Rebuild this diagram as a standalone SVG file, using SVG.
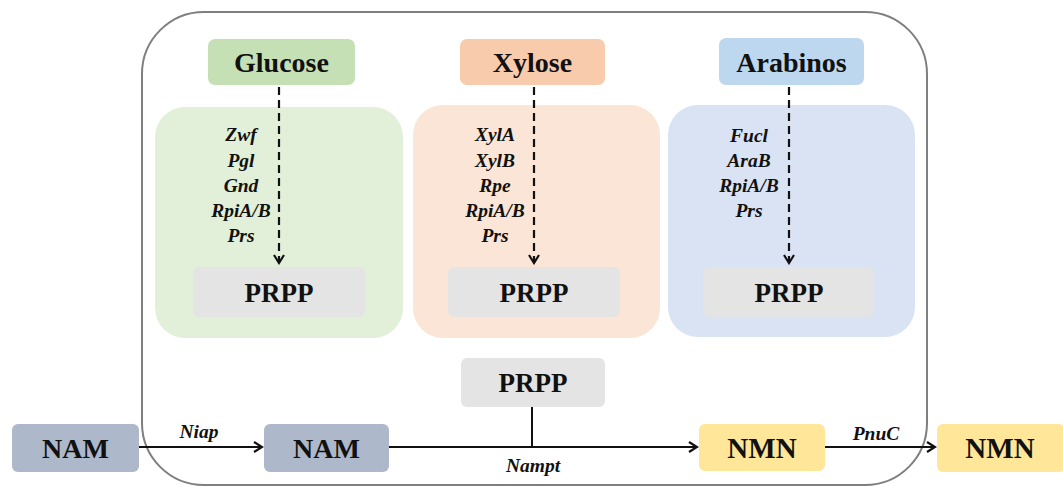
<svg xmlns="http://www.w3.org/2000/svg" width="1063" height="488" viewBox="0 0 1063 488">
<style>
.lbl{font-family:"Liberation Serif","Times New Roman",serif;font-weight:bold;fill:#111;text-anchor:middle}
.top{font-size:28px}
.prpp{font-size:27px}
.gene{font-family:"Liberation Serif","Times New Roman",serif;font-weight:bold;font-style:italic;font-size:19.5px;fill:#111;text-anchor:middle}
.dash{stroke:#111;stroke-width:2.2;stroke-dasharray:8 5;fill:none}
.solid{stroke:#111;stroke-width:2;fill:none}
</style>
<defs>
<marker id="chev" markerWidth="12" markerHeight="12" refX="10" refY="6" orient="auto" markerUnits="userSpaceOnUse">
<path d="M2,1 L10,6 L2,11" fill="none" stroke="#111" stroke-width="2.2"/>
</marker>
</defs>
<rect id="container" x="142" y="12" width="785" height="473" rx="62" fill="#fff" stroke="#7f7f7f" stroke-width="2"/>

<g id="panel-glucose"><rect x="155" y="107" width="248" height="231" rx="30" fill="#e2f0d9"/></g>
<g id="panel-xylose"><rect x="413" y="105" width="247" height="233" rx="30" fill="#fbe5d6"/></g>
<g id="panel-arabinos"><rect x="668" y="105" width="247" height="232" rx="30" fill="#dae3f3"/></g>

<g id="glucose"><rect x="208" y="39" width="147" height="46" rx="7" fill="#c5e0b4"/><text class="lbl top" x="281.5" y="72">Glucose</text></g>
<g id="xylose"><rect x="460" y="39" width="145" height="46" rx="7" fill="#f8cbad"/><text class="lbl top" x="532.5" y="72">Xylose</text></g>
<g id="arabinos"><rect x="719" y="38" width="145" height="47" rx="7" fill="#bdd7ee"/><text class="lbl top" x="791.5" y="72">Arabinos</text></g>

<g id="prpp-glucose"><rect x="193" y="267" width="172" height="50" rx="6" fill="#e4e4e4"/><text class="lbl prpp" x="279" y="302">PRPP</text></g>
<g id="prpp-xylose"><rect x="448" y="267" width="172" height="50" rx="6" fill="#e4e4e4"/><text class="lbl prpp" x="534" y="302">PRPP</text></g>
<g id="prpp-arabinos"><rect x="703" y="267" width="171" height="50" rx="6" fill="#e4e4e4"/><text class="lbl prpp" x="789" y="302">PRPP</text></g>

<g id="genes-glucose">
<text class="gene" x="241" y="141">Zwf</text>
<text class="gene" x="241" y="167">Pgl</text>
<text class="gene" x="241" y="192">Gnd</text>
<text class="gene" x="241" y="217">RpiA/B</text>
<text class="gene" x="241" y="242">Prs</text>
</g>
<g id="genes-xylose">
<text class="gene" x="495" y="141">XylA</text>
<text class="gene" x="495" y="167">XylB</text>
<text class="gene" x="495" y="192">Rpe</text>
<text class="gene" x="495" y="217">RpiA/B</text>
<text class="gene" x="495" y="242">Prs</text>
</g>
<g id="genes-arabinos">
<text class="gene" x="749" y="142">Fucl</text>
<text class="gene" x="749" y="167">AraB</text>
<text class="gene" x="749" y="192">RpiA/B</text>
<text class="gene" x="749" y="217">Prs</text>
</g>

<g id="prpp-center"><rect x="461" y="358" width="144" height="49" rx="6" fill="#e4e4e4"/><text class="lbl prpp" x="533" y="392">PRPP</text></g>
<g id="nam-out"><rect x="12" y="424" width="127" height="48" rx="6" fill="#adb9ca"/><text class="lbl" font-size="28" x="75.5" y="458">NAM</text></g>
<g id="nam-in"><rect x="264" y="424" width="125" height="48" rx="6" fill="#adb9ca"/><text class="lbl" font-size="28" x="326.5" y="458">NAM</text></g>
<g id="nmn-in"><rect x="699" y="424" width="126" height="47" rx="6" fill="#ffe699"/><text class="lbl" font-size="29" x="762" y="458">NMN</text></g>
<g id="nmn-out"><rect x="937" y="424" width="128" height="48" rx="6" fill="#ffe699"/><text class="lbl" font-size="29" x="1000" y="458">NMN</text></g>

<g id="connectors">
<line class="dash" x1="279" y1="87" x2="279" y2="263" marker-end="url(#chev)"/>
<line class="dash" x1="534" y1="87" x2="534" y2="263" marker-end="url(#chev)"/>
<line class="dash" x1="789" y1="87" x2="789" y2="263" marker-end="url(#chev)"/>
<line class="solid" x1="139" y1="447" x2="262" y2="447" marker-end="url(#chev)"/>
<line class="solid" x1="389" y1="447" x2="697" y2="447" marker-end="url(#chev)"/>
<line class="solid" x1="532" y1="407" x2="532" y2="447"/>
<line class="solid" x1="825" y1="447" x2="935" y2="447" marker-end="url(#chev)"/>
<text class="gene" font-size="15" x="199" y="438">Niap</text>
<text class="gene" font-size="18" x="533" y="472">Nampt</text>
<text class="gene" font-size="17" x="876" y="440">PnuC</text>
</g>
</svg>
